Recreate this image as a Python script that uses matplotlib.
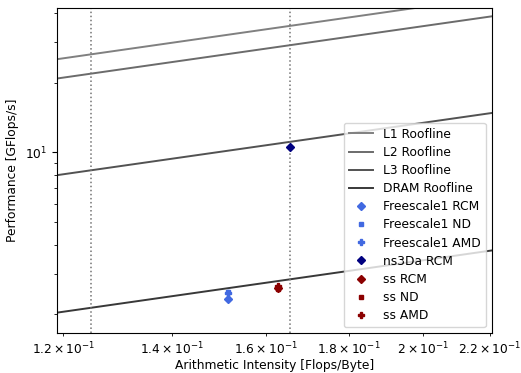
import numpy as np
import matplotlib
matplotlib.use('Agg')
import matplotlib.pyplot as plt

# memory bandwidths for each roofline [GB/s]
roof_names = ['L1 Roofline', 'L2 Roofline', 'L3 Roofline', 'DRAM Roofline']
roof_bw = [212.0, 175.0, 67.0, 17.1]
roof_colors = ['0.5', '0.42', '0.32', '0.22']

# measured kernels: intensity [Flops/Byte] and performance [GFlops/s]
freescale_ai = [0.1517, 0.1517, 0.1517]
freescale_perf = [2.32, 2.49, 2.47]
ns3da_ai = [0.1656]
ns3da_perf = [10.5]
ss_ai = [0.1628, 0.1628, 0.1628]
ss_perf = [2.60, 2.56, 2.66]
orderings = ['RCM', 'ND', 'AMD']
order_markers = {'RCM': ('D', 4.5), 'ND': ('s', 3.5), 'AMD': ('P', 4)}

# ridge points of the model
ridge_ai = [0.1248, 0.1656]

xlim = (0.1189, 0.2206)
ylim = (1.66, 42.0)


def main():
    plt.rcParams['font.size'] = 8.8
    fig = plt.figure(figsize=(5.21, 3.73), dpi=100)
    ax = fig.add_axes([0.109, 0.107, 0.835, 0.872])
    ax.set_xscale('log')
    ax.set_yscale('log')

    ai = np.geomspace(xlim[0], xlim[1], 50)
    for name, bw, col in zip(roof_names, roof_bw, roof_colors):
        ax.plot(ai, bw * ai, color=col, lw=1.4, label=name)

    for x in ridge_ai:
        ax.axvline(x, color='0.45', ls=':', lw=1.1)

    for k, order in enumerate(orderings):
        m, ms = order_markers[order]
        ax.plot(freescale_ai[k], freescale_perf[k], ls='none', marker=m, ms=ms,
                color='royalblue', label='Freescale1 ' + order)
    ax.plot(ns3da_ai[0], ns3da_perf[0], ls='none', marker='D', ms=4.5,
            color='navy', label='ns3Da RCM')
    for k, order in enumerate(orderings):
        m, ms = order_markers[order]
        ax.plot(ss_ai[k], ss_perf[k], ls='none', marker=m, ms=ms,
                color='darkred', label='ss ' + order)

    ax.set_xlim(*xlim)
    ax.set_ylim(*ylim)
    ax.tick_params(axis='x', pad=2.5)
    ax.set_xlabel('Arithmetic Intensity [Flops/Byte]', labelpad=1.5)
    ax.set_ylabel('Performance [GFlops/s]')
    ax.legend(loc='lower right', labelspacing=0.42)

    fig.savefig('out.png', dpi=100)


if __name__ == '__main__':
    main()
